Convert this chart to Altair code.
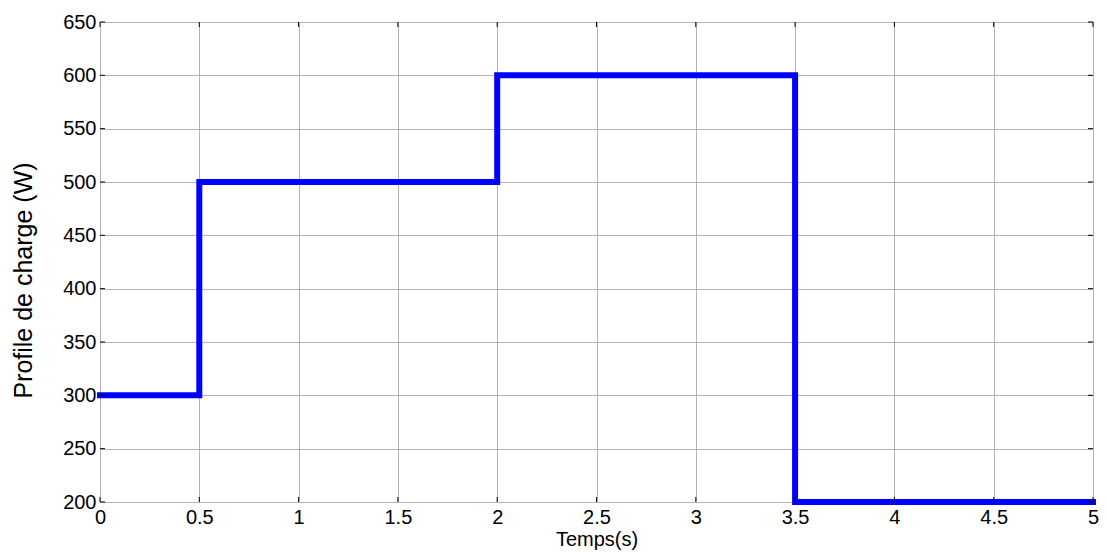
import altair as alt
import pandas as pd

temps = [0.0, 0.5, 2.0, 3.5, 5.0]
charge = [300, 500, 600, 200, 200]
x_ticks = [0, 0.5, 1, 1.5, 2, 2.5, 3, 3.5, 4, 4.5, 5]
y_ticks = [200, 250, 300, 350, 400, 450, 500, 550, 600, 650]

df = pd.DataFrame({"t": temps, "p": charge})
W, H = 993, 480
FONT = "Liberation Sans"

xs = alt.Scale(domain=[0, 5], nice=False, zero=False)
ys = alt.Scale(domain=[200, 650], nice=False, zero=False)

line = alt.Chart(df).mark_line(
    interpolate="step-after", color="#0000FF", strokeWidth=6, strokeJoin="miter", strokeCap="square"
).encode(
    x=alt.X("t:Q", scale=xs,
            axis=alt.Axis(values=x_ticks, format="~g", title="Temps(s)", grid=True, gridColor="#b4b4b4",
                          gridWidth=1, ticks=False, labelFontSize=20, labelFont=FONT,
                          labelColor="black", labelPadding=5, titleFont=FONT, titleFontSize=20,
                          titleFontWeight="normal", titleColor="black", titlePadding=2,
                          domain=False, labelFlush=False)),
    y=alt.Y("p:Q", scale=ys,
            axis=alt.Axis(values=y_ticks, title="Profile de charge (W)", grid=True, gridColor="#b4b4b4",
                          gridWidth=1, ticks=False, labelFontSize=20, labelFont=FONT,
                          labelColor="black", labelPadding=4, titleFont=FONT, titleFontSize=25,
                          titleFontWeight="normal", titleColor="black", titlePadding=26,
                          titleY=258, domain=False, labelFlush=False)),
)

ydf = pd.DataFrame({"v": y_ticks})
xdf = pd.DataFrame({"v": x_ticks})
tick_len = 5
yl = alt.Chart(ydf).mark_rule(color="black", strokeWidth=1).encode(
    y=alt.Y("v:Q", scale=ys), x=alt.value(0), x2=alt.value(tick_len))
yr = alt.Chart(ydf).mark_rule(color="black", strokeWidth=1).encode(
    y=alt.Y("v:Q", scale=ys), x=alt.value(W - tick_len), x2=alt.value(W))
xb = alt.Chart(xdf).mark_rule(color="black", strokeWidth=1).encode(
    x=alt.X("v:Q", scale=xs), y=alt.value(H), y2=alt.value(H - tick_len))
xt = alt.Chart(xdf).mark_rule(color="black", strokeWidth=1).encode(
    x=alt.X("v:Q", scale=xs), y=alt.value(0), y2=alt.value(tick_len))

chart = alt.layer(line, yl, yr, xb, xt).properties(
    width=W, height=H,
    autosize=alt.AutoSizeParams(type="none"),
    padding={"left": 92, "top": 14, "right": 6, "bottom": 49},
).configure_view(stroke="black", strokeWidth=2).configure(background="white")

chart.save("out.html", embed_options={"renderer": "svg", "actions": False})
